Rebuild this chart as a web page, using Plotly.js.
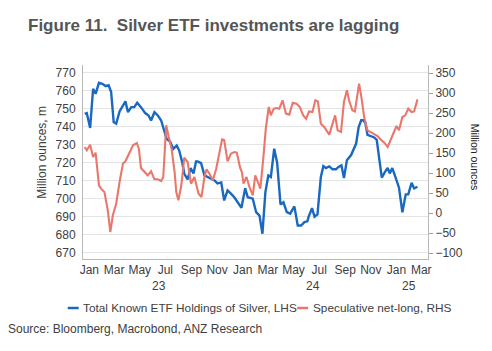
<!DOCTYPE html>
<html>
<head>
<meta charset="utf-8">
<script src="https://cdn.plot.ly/plotly-3.0.1.min.js"></script>
<style>
  html, body { margin: 0; padding: 0; background: #ffffff; }
  #chart { width: 492px; height: 351px; }
</style>
</head>
<body>
<div id="chart"></div>
<script>
// ---- Data ----
const etfDates = [
  "2023-01-05","2023-01-10","2023-01-18","2023-01-25","2023-01-31","2023-02-08","2023-02-16","2023-02-24",
  "2023-03-03","2023-03-09","2023-03-15","2023-03-21","2023-03-29","2023-04-06","2023-04-12","2023-04-18",
  "2023-04-26","2023-05-03","2023-05-10","2023-05-19","2023-05-29","2023-06-06","2023-06-12","2023-06-20",
  "2023-06-28","2023-07-06","2023-07-14","2023-07-19","2023-07-27","2023-08-04","2023-08-12","2023-08-18",
  "2023-08-25","2023-08-30","2023-09-07","2023-09-14","2023-09-21","2023-09-27","2023-10-01","2023-10-09",
  "2023-10-17","2023-10-25","2023-11-02","2023-11-10","2023-11-17","2023-11-26","2023-12-03","2023-12-11",
  "2023-12-19","2023-12-27","2024-01-04","2024-01-13","2024-01-22","2024-01-28","2024-02-09","2024-02-17",
  "2024-02-25","2024-03-03","2024-03-10","2024-03-17","2024-03-23","2024-03-31","2024-04-07","2024-04-15",
  "2024-04-22","2024-04-30","2024-05-08","2024-05-18","2024-05-26","2024-06-03","2024-06-11","2024-06-18",
  "2024-06-21","2024-06-29","2024-07-05","2024-07-12","2024-07-20","2024-07-26","2024-08-01","2024-08-09",
  "2024-08-17","2024-08-25","2024-08-31","2024-09-07","2024-09-13","2024-09-20","2024-09-30","2024-10-06",
  "2024-10-12","2024-10-18","2024-10-24","2024-10-29","2024-11-03","2024-11-08","2024-11-16","2024-11-24",
  "2024-11-30","2024-12-06","2024-12-12","2024-12-20","2024-12-26","2024-12-31","2025-01-06","2025-01-14",
  "2025-01-22","2025-01-30","2025-02-07","2025-02-13","2025-02-21","2025-02-27","2025-03-07"
];
const etfHoldings = [
  747.1,747.5,739.3,761.0,758.2,764.3,763.8,762.5,
  763.0,759.2,742.5,741.6,748.4,752.1,754.0,748.0,
  750.8,750.8,753.2,750.8,747.5,746.2,743.4,748.0,
  746.2,743.4,737.9,733.2,731.7,727.6,729.5,726.7,
  720.3,713.8,710.7,716.9,714.0,720.6,720.6,719.7,
  712.9,712.0,710.7,710.1,708.5,709.0,699.0,704.6,
  702.8,700.8,698.0,694.9,705.8,700.8,700.0,692.5,
  690.6,680.5,703.6,712.9,712.0,727.7,720.0,696.8,
  698.0,692.5,691.7,695.7,685.1,685.1,687.0,687.4,
  690.0,694.7,690.0,691.3,712.0,718.1,717.0,717.9,
  716.3,716.3,717.6,718.5,711.4,721.3,724.2,727.8,
  730.6,739.8,743.5,743.5,742.0,735.4,734.5,734.0,
  732.6,722.2,711.7,715.0,717.0,714.0,717.0,711.7,
  706.1,692.4,702.4,702.4,708.8,705.7,706.6
];

const specDates = [
  "2023-01-05","2023-01-10","2023-01-18","2023-01-25","2023-01-31","2023-02-08","2023-02-13","2023-02-21",
  "2023-03-01","2023-03-07","2023-03-13","2023-03-21","2023-03-29","2023-04-06","2023-04-12","2023-04-20",
  "2023-04-30","2023-05-09","2023-05-14","2023-05-19","2023-05-27","2023-06-04","2023-06-12","2023-06-20",
  "2023-06-28","2023-07-06","2023-07-11","2023-07-18","2023-07-24","2023-07-31","2023-08-07","2023-08-11",
  "2023-08-16","2023-08-23","2023-08-30","2023-09-07","2023-09-15","2023-09-23","2023-10-03","2023-10-10",
  "2023-10-17","2023-10-22","2023-10-29","2023-11-06","2023-11-14","2023-11-21","2023-11-28","2023-12-03",
  "2023-12-11","2023-12-19","2023-12-27","2024-01-02","2024-01-10","2024-01-14","2024-01-18","2024-01-25",
  "2024-02-01","2024-02-09","2024-02-15","2024-02-21","2024-02-27","2024-03-05","2024-03-11","2024-03-18",
  "2024-03-23","2024-03-30","2024-04-06","2024-04-12","2024-04-20","2024-04-28","2024-05-06","2024-05-14",
  "2024-05-23","2024-05-31","2024-06-08","2024-06-15","2024-06-22","2024-06-30","2024-07-07","2024-07-13",
  "2024-07-20","2024-07-28","2024-08-03","2024-08-09","2024-08-17","2024-08-23","2024-08-29","2024-09-06",
  "2024-09-13","2024-09-20","2024-09-25","2024-10-03","2024-10-09","2024-10-19","2024-10-25","2024-10-31",
  "2024-11-08","2024-11-16","2024-11-24","2024-12-02","2024-12-10","2024-12-18","2024-12-26","2025-01-01",
  "2025-01-09","2025-01-16","2025-01-22","2025-01-30","2025-02-06","2025-02-13","2025-02-21","2025-02-27",
  "2025-03-07"
];
const specNetLong = [
  165.0,156.7,170.8,140.0,150.8,69.0,60.8,52.5,
  6.7,-47.5,-5.8,23.3,77.5,123.3,129.2,148.3,
  169.2,175.0,160.8,112.5,102.5,94.2,104.2,84.2,
  84.2,80.0,90.0,219.2,190.0,159.2,102.5,52.5,
  31.7,69.2,138.3,127.5,73.3,90.0,48.3,40.0,
  90.0,109.0,98.3,81.7,110.8,152.5,184.2,182.5,
  129.2,148.3,152.5,151.0,112.5,102.5,73.3,90.0,
  65.0,44.2,94.2,77.5,60.8,135.8,210.8,265.0,
  244.2,260.8,262.5,260.8,281.7,248.3,246.0,275.8,
  273.3,265.0,244.2,235.8,254.0,252.5,281.7,279.0,
  223.3,215.0,206.7,196.0,223.3,244.2,206.7,202.5,
  277.5,306.7,281.7,256.7,254.0,323.3,285.8,240.0,
  206.7,202.5,198.3,192.5,183.3,175.8,165.0,179.2,
  198.3,217.5,206.7,240.0,244.2,260.8,252.5,254.0,
  284.0
];

const seriesNames = ["Total Known ETF Holdings of Silver, LHS", "Speculative net-long, RHS"];
const monthTickVals = ["2023-01-16","2023-03-16","2023-05-16","2023-07-16","2023-09-16","2023-11-16",
                       "2024-01-16","2024-03-16","2024-05-16","2024-07-16","2024-09-16","2024-11-16",
                       "2025-01-16","2025-03-16"];
const monthTickText = ["Jan","Mar","May","Jul","Sep","Nov","Jan","Mar","May","Jul","Sep","Nov","Jan","Mar"];
const yearTickVals = ["2023-01-01","2024-01-01","2025-01-01"];
const yearLabelPos = ["2023-07-02","2024-07-02","2025-02-15"];
const yearLabels = ["23","24","25"];

// ---- Styling / geometry ----
const W = 492, H = 351;
const PL = 83.3, PR = 428.3, PT = 65, PB = 259;
const px = v => (v - PL) / (PR - PL);
const py = v => (PB - v) / (PB - PT);
const FONT = "Liberation Sans, Arial, sans-serif";
const BLUE = "#1a69c0";
const RED = "#ea776c";
const TXT = "#404040";
const AXC = "#b8b8b8";
const xRange = ["2023-01-01", "2025-04-01"];

const traces = [
  { x: etfDates, y: etfHoldings, type: "scatter", mode: "lines", name: seriesNames[0],
    line: { color: BLUE, width: 2.4 }, xaxis: "x", yaxis: "y", showlegend: false },
  { x: specDates, y: specNetLong, type: "scatter", mode: "lines", name: seriesNames[1],
    line: { color: RED, width: 2.1 }, xaxis: "x", yaxis: "y2", showlegend: false }
];

const annotations = [];
yearLabels.forEach((t, i) => annotations.push({
  text: t, x: yearLabelPos[i], xref: "x", y: py(286), yref: "paper",
  showarrow: false, xanchor: "center", yanchor: "middle",
  font: { family: FONT, size: 12, color: TXT }
}));
// axis titles
annotations.push({ text: "Million ounces, m", x: px(42), xref: "paper", y: py(152), yref: "paper",
  showarrow: false, textangle: -90, xanchor: "center", yanchor: "middle",
  font: { family: FONT, size: 12, color: TXT } });
annotations.push({ text: "Million ounces", x: px(476), xref: "paper", y: py(157.5), yref: "paper",
  showarrow: false, textangle: 90, xanchor: "center", yanchor: "middle",
  font: { family: FONT, size: 10.5, color: "#222222" } });
// legend texts
annotations.push({ text: seriesNames[0], x: px(81.5), xref: "paper", y: py(308), yref: "paper",
  showarrow: false, xanchor: "left", yanchor: "middle",
  font: { family: FONT, size: 11.8, color: TXT } });
annotations.push({ text: seriesNames[1], x: px(311.5), xref: "paper", y: py(308), yref: "paper",
  showarrow: false, xanchor: "left", yanchor: "middle",
  font: { family: FONT, size: 11.8, color: TXT } });
// source
annotations.push({ text: "Source: Bloomberg, Macrobond, ANZ Research", x: px(6.5), xref: "paper",
  y: py(329), yref: "paper", showarrow: false, xanchor: "left", yanchor: "middle",
  font: { family: FONT, size: 12, color: TXT } });

const shapes = [
  { type: "line", xref: "paper", yref: "paper", x0: px(68), x1: px(79), y0: py(308), y1: py(308),
    line: { color: BLUE, width: 2.5 } },
  { type: "line", xref: "paper", yref: "paper", x0: px(297.5), x1: px(308.5), y0: py(308), y1: py(308),
    line: { color: RED, width: 2.5 } }
];

const layout = {
  width: W, height: H,
  margin: { l: PL, r: W - PR, t: PT, b: H - PB, pad: 0 },
  paper_bgcolor: "#ffffff", plot_bgcolor: "#ffffff",
  font: { family: FONT, size: 12, color: TXT },
  title: { text: "<b>Figure 11.  Silver ETF investments are lagging</b>",
    x: 28 / W, xref: "container", xanchor: "left",
    y: 1 - 25 / H, yref: "container", yanchor: "middle",
    font: { family: FONT, size: 17, color: "#555555" } },
  showlegend: false,
  xaxis: {
    type: "date", range: xRange,
    tickmode: "array", tickvals: monthTickVals, ticktext: monthTickText,
    ticks: "", showgrid: false, zeroline: false,
    showline: true, linecolor: AXC, linewidth: 1,
    tickfont: { family: FONT, size: 12, color: TXT }
  },
  xaxis2: {
    type: "date", range: xRange, overlaying: "x", anchor: "y", side: "bottom",
    tickmode: "array", tickvals: yearTickVals, ticks: "outside", ticklen: 5, tickcolor: AXC,
    showticklabels: false, showgrid: false, zeroline: false, showline: false,
    minor: { dtick: "M1", tick0: "2023-01-01", ticks: "outside", ticklen: 2, tickcolor: "#d0d0d0", showgrid: false }
  },
  yaxis: {
    range: [666.5, 774.2], tickmode: "linear", tick0: 670, dtick: 10,
    showgrid: true, gridcolor: "#e4e4e4", gridwidth: 1, zeroline: false,
    showline: true, linecolor: AXC, linewidth: 1,
    ticks: "outside", ticklen: 4, tickcolor: "#ffffff",
    tickfont: { family: FONT, size: 12, color: TXT }
  },
  yaxis2: {
    range: [-115, 370], overlaying: "y", side: "right", anchor: "x",
    tickmode: "linear", tick0: -100, dtick: 50,
    showgrid: false, zeroline: false,
    showline: true, linecolor: AXC, linewidth: 1,
    ticks: "outside", ticklen: 4, tickcolor: "#a0a0a0",
    tickfont: { family: FONT, size: 12, color: TXT }
  },
  annotations: annotations,
  shapes: shapes
};

Plotly.newPlot("chart", traces, layout, { staticPlot: true, displayModeBar: false });
</script>
</body>
</html>
